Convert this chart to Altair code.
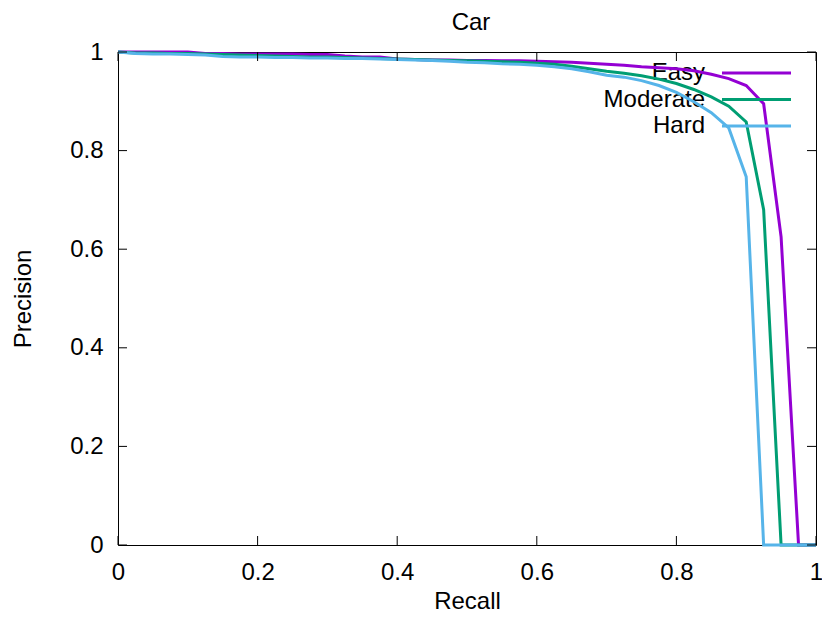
import altair as alt
import pandas as pd

recall = [0.000, 0.025, 0.050, 0.075, 0.100, 0.125, 0.150, 0.175, 0.200, 0.225,
          0.250, 0.275, 0.300, 0.325, 0.350, 0.375, 0.400, 0.425, 0.450, 0.475,
          0.500, 0.525, 0.550, 0.575, 0.600, 0.625, 0.650, 0.675, 0.700, 0.725,
          0.750, 0.775, 0.800, 0.825, 0.850, 0.875, 0.900, 0.925, 0.950, 0.975,
          1.000]

easy = [1.000, 1.000, 1.000, 1.000, 1.000, 0.997, 0.997, 0.996, 0.996, 0.996,
        0.996, 0.995, 0.995, 0.992, 0.990, 0.990, 0.986, 0.985, 0.984, 0.984,
        0.983, 0.983, 0.982, 0.982, 0.981, 0.980, 0.979, 0.977, 0.975, 0.973,
        0.970, 0.968, 0.966, 0.962, 0.955, 0.946, 0.932, 0.895, 0.625, 0.000,
        0.000]

moderate = [1.000, 0.998, 0.998, 0.997, 0.997, 0.996, 0.995, 0.994, 0.993, 0.992,
            0.991, 0.990, 0.990, 0.989, 0.988, 0.987, 0.986, 0.985, 0.984, 0.983,
            0.982, 0.981, 0.980, 0.979, 0.977, 0.975, 0.971, 0.966, 0.961, 0.957,
            0.952, 0.945, 0.936, 0.924, 0.909, 0.890, 0.858, 0.680, 0.000, 0.000,
            0.000]

hard = [1.000, 0.997, 0.996, 0.996, 0.995, 0.994, 0.991, 0.990, 0.990, 0.989,
        0.989, 0.988, 0.988, 0.987, 0.987, 0.986, 0.985, 0.984, 0.983, 0.981,
        0.979, 0.978, 0.976, 0.975, 0.973, 0.970, 0.966, 0.960, 0.953, 0.949,
        0.942, 0.932, 0.918, 0.899, 0.877, 0.846, 0.747, 0.000, 0.000, 0.000,
        0.000]

series_names = ["Easy", "Moderate", "Hard"]
series_colors = ["#9400d3", "#009e73", "#56b4e9"]
tick_values = [0, 0.2, 0.4, 0.6, 0.8, 1.0]
chart_title = ["Car"]

PAD_L, PAD_T, PAD_R, PAD_B = 110, 44, 6, 67
W, H = 698, 493
FONT = "Liberation Sans"
FS = 24
TICK = 9

xscale = alt.Scale(domain=[0, 1], nice=False, zero=False)
yscale = alt.Scale(domain=[0, 1], nice=False, zero=False)

x_axis = alt.Axis(values=tick_values, format="~g", title="Recall", grid=False,
                  ticks=False, tickSize=0, domain=False, labelFlush=False,
                  labelPadding=15, titleY=56, titleBaseline="middle")
y_axis = alt.Axis(values=tick_values, format="~g", title="Precision", grid=False,
                  ticks=False, tickSize=0, domain=False, labelFlush=False,
                  labelPadding=15, titleX=-88, titleBaseline="alphabetic")

title_layer = alt.Chart(pd.DataFrame({"t": chart_title})).mark_text(
    align="center", baseline="alphabetic", font=FONT, fontSize=FS, color="black"
).encode(x=alt.value(W / 2 + 4), y=alt.value(-22), text="t:N")

layers = [title_layer]
all_series = [easy, moderate, hard]
for i, (name, vals, col) in enumerate(zip(series_names, all_series, series_colors)):
    ly = 21 + 26.5 * i
    lab = alt.Chart(pd.DataFrame({"label": [name]})).mark_text(
        align="right", baseline="middle", font=FONT, fontSize=FS, color="black"
    ).encode(x=alt.value(587), y=alt.value(ly), text="label:N")
    sample = alt.Chart(pd.DataFrame({"label": [name]})).mark_rule(
        color=col, strokeWidth=3
    ).encode(x=alt.value(604), x2=alt.value(673), y=alt.value(ly))
    df = pd.DataFrame({"Recall": recall, "Precision": vals})
    line = alt.Chart(df).mark_line(color=col, strokeWidth=3, clip=False).encode(
        x=alt.X("Recall:Q", scale=xscale, axis=x_axis),
        y=alt.Y("Precision:Q", scale=yscale, axis=y_axis),
        order="Recall:Q",
    )
    layers += [lab, sample, line]

xtdf = pd.DataFrame({"Recall": tick_values})
ytdf = pd.DataFrame({"Precision": tick_values})
xt_bottom = alt.Chart(xtdf).mark_rule(color="black", strokeWidth=1).encode(
    x=alt.X("Recall:Q", scale=xscale, axis=x_axis), y=alt.value(H), y2=alt.value(H - TICK))
xt_top = alt.Chart(xtdf).mark_rule(color="black", strokeWidth=1).encode(
    x=alt.X("Recall:Q", scale=xscale, axis=x_axis), y=alt.value(0), y2=alt.value(TICK))
yt_left = alt.Chart(ytdf).mark_rule(color="black", strokeWidth=1).encode(
    y=alt.Y("Precision:Q", scale=yscale, axis=y_axis), x=alt.value(0), x2=alt.value(TICK))
yt_right = alt.Chart(ytdf).mark_rule(color="black", strokeWidth=1).encode(
    y=alt.Y("Precision:Q", scale=yscale, axis=y_axis), x=alt.value(W), x2=alt.value(W - TICK))

chart = alt.layer(*layers, xt_bottom, xt_top, yt_left, yt_right).properties(
    width=W, height=H,
    autosize=alt.AutoSizeParams(type="none"),
    padding={"left": PAD_L, "top": PAD_T, "right": PAD_R, "bottom": PAD_B},
).configure_view(stroke="black", strokeWidth=1).configure_axis(
    labelFont=FONT, labelFontSize=FS, labelColor="black",
    titleFont=FONT, titleFontSize=FS, titleColor="black", titleFontWeight="normal",
)

chart.save("out.html", embed_options={"renderer": "svg", "actions": False})
